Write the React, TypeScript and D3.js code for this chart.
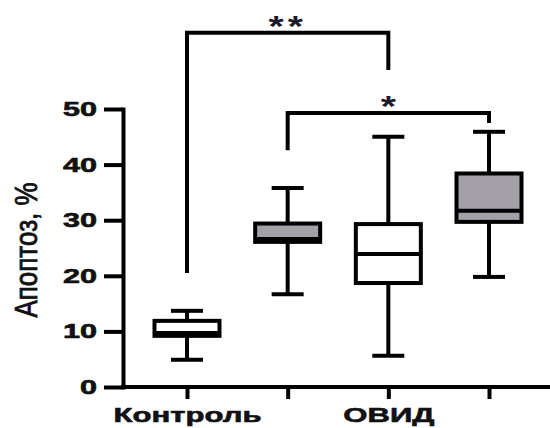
import { useEffect, useRef } from 'react';
import * as d3 from 'd3';

const groups = ['control', 'control2', 'ovid', 'ovid2'];
const tickLabels = ['Контроль', '', 'ОВИД', ''];
const whiskerLow = [4.9, 16.7, 5.6, 19.8];
const q1 = [9.2, 26.1, 18.7, 29.7];
const median = [9.7, 26.6, 23.9, 31.7];
const q3 = [11.9, 29.4, 29.3, 38.4];
const whiskerHigh = [13.7, 35.8, 45, 45.9];
const filled = [false, true, false, true];
const yTicks = [0, 10, 20, 30, 40, 50];

// significance brackets (values in axis units)
const bracketFrom = [0, 1];
const bracketTo = [2, 3];
const bracketTop = [63.7, 49.3];
const bracketLeftEnd = [20.5, 42.6];
const bracketRightEnd = [57, 47.5];
const bracketStars = ['**', '*'];

const FONT = '"Liberation Sans", Arial, sans-serif';

const App = () => {
  const svgRef = useRef<SVGSVGElement>(null);

  useEffect(() => {
    const width = 550;
    const height = 428;
    const svg = d3.select(svgRef.current).attr('width', width).attr('height', height);
    svg.selectAll('*').remove();

    const y = d3.scaleLinear().domain([0, 50]).range([387, 109]);
    const x = d3.scalePoint<string>().domain(groups).range([187, 489]);
    const axisX = 123;
    const boxW = 65;
    const capW = 32;
    const sw = 4;

    // y axis
    const yAxis = svg.append('g')
      .attr('transform', `translate(${axisX},0)`)
      .call(d3.axisLeft(y).tickValues(yTicks).tickSize(19).tickSizeOuter(0).tickPadding(7));
    yAxis.select('.domain').attr('stroke-width', sw).attr('stroke-linecap', 'square');
    yAxis.selectAll('.tick line').attr('stroke-width', sw);
    yAxis.selectAll('.tick text')
      .attr('font-family', FONT)
      .attr('font-weight', 'bold')
      .attr('font-size', 20)
      .attr('fill', '#111')
      .attr('stroke', '#111')
      .attr('stroke-width', 0.6)
      .each(function () {
        const t = this as SVGTextElement;
        t.setAttribute('textLength', String(t.getComputedTextLength() * 1.53));
        t.setAttribute('lengthAdjust', 'spacingAndGlyphs');
      });

    // x axis
    svg.append('line')
      .attr('x1', axisX - sw / 2).attr('x2', width)
      .attr('y1', y(0)).attr('y2', y(0))
      .attr('stroke', '#000').attr('stroke-width', sw);
    const xAxis = svg.append('g')
      .attr('transform', `translate(0,${y(0)})`)
      .call(d3.axisBottom(x).tickSize(12).tickFormat((_, i) => tickLabels[i]));
    xAxis.select('.domain').remove();
    xAxis.selectAll('.tick line').attr('stroke-width', sw);
    xAxis.selectAll('.tick text')
      .attr('y', 35).attr('dy', 0)
      .attr('font-family', FONT)
      .attr('font-weight', 'bold')
      .attr('font-size', 21)
      .attr('fill', '#111')
      .attr('stroke', '#111')
      .attr('stroke-width', 0.6)
      .each(function () {
        const t = this as SVGTextElement;
        if (!t.textContent) return;
        t.setAttribute('textLength', String(t.getComputedTextLength() * 1.48));
        t.setAttribute('lengthAdjust', 'spacingAndGlyphs');
      });

    // y title
    svg.append('text')
      .attr('transform', `translate(37,250) scale(1.18,1) rotate(-90)`)
      .attr('text-anchor', 'middle')
      .attr('font-family', FONT)
      .attr('font-size', 26)
      .attr('fill', '#111')
      .attr('stroke', '#111')
      .attr('stroke-width', 0.7)
      .text('Апоптоз, %');

    // boxes
    const boxes = svg.append('g').selectAll('g')
      .data(groups)
      .enter().append('g')
      .attr('stroke', '#000')
      .attr('stroke-width', sw);

    boxes.append('line')
      .attr('x1', d => x(d)!).attr('x2', d => x(d)!)
      .attr('y1', (_, i) => y(whiskerLow[i])).attr('y2', (_, i) => y(whiskerHigh[i]));
    boxes.append('line')
      .attr('x1', d => x(d)! - capW / 2).attr('x2', d => x(d)! + capW / 2)
      .attr('y1', (_, i) => y(whiskerLow[i])).attr('y2', (_, i) => y(whiskerLow[i]));
    boxes.append('line')
      .attr('x1', d => x(d)! - capW / 2).attr('x2', d => x(d)! + capW / 2)
      .attr('y1', (_, i) => y(whiskerHigh[i])).attr('y2', (_, i) => y(whiskerHigh[i]));
    boxes.append('rect')
      .attr('x', d => x(d)! - boxW / 2)
      .attr('width', boxW)
      .attr('y', (_, i) => y(q3[i]))
      .attr('height', (_, i) => y(q1[i]) - y(q3[i]))
      .attr('fill', (_, i) => filled[i] ? '#a3a1a7' : '#fff');
    boxes.append('line')
      .attr('x1', d => x(d)! - boxW / 2).attr('x2', d => x(d)! + boxW / 2)
      .attr('y1', (_, i) => y(median[i])).attr('y2', (_, i) => y(median[i]));

    // significance brackets
    const brackets = svg.append('g').selectAll('g')
      .data(bracketFrom)
      .enter().append('g');

    brackets.append('path')
      .attr('fill', 'none')
      .attr('stroke', '#000')
      .attr('stroke-width', sw)
      .attr('d', (d, i) => {
        const x0 = x(groups[d])!;
        const x1 = x(groups[bracketTo[i]])!;
        return `M${x0},${y(bracketLeftEnd[i])}V${y(bracketTop[i])}H${x1}V${y(bracketRightEnd[i])}`;
      });

    brackets.append('text')
      .attr('transform', (d, i) => {
        const cx = (x(groups[d])! + x(groups[bracketTo[i]])!) / 2;
        return `translate(${cx},${y(bracketTop[i]) + 3}) scale(1.3,1)`;
      })
      .attr('text-anchor', 'middle')
      .attr('letter-spacing', (_, i) => bracketStars[i].length > 1 ? 3 : 0)
      .attr('font-family', FONT)
      .attr('font-weight', 'bold')
      .attr('font-size', 30)
      .attr('fill', '#1a1a2a')
      .text((_, i) => bracketStars[i]);
  }, []);

  return (
    <div>
      <svg ref={svgRef} style={{ position: 'absolute', left: 0, top: 0 }} />
    </div>
  );
};

export default App;
